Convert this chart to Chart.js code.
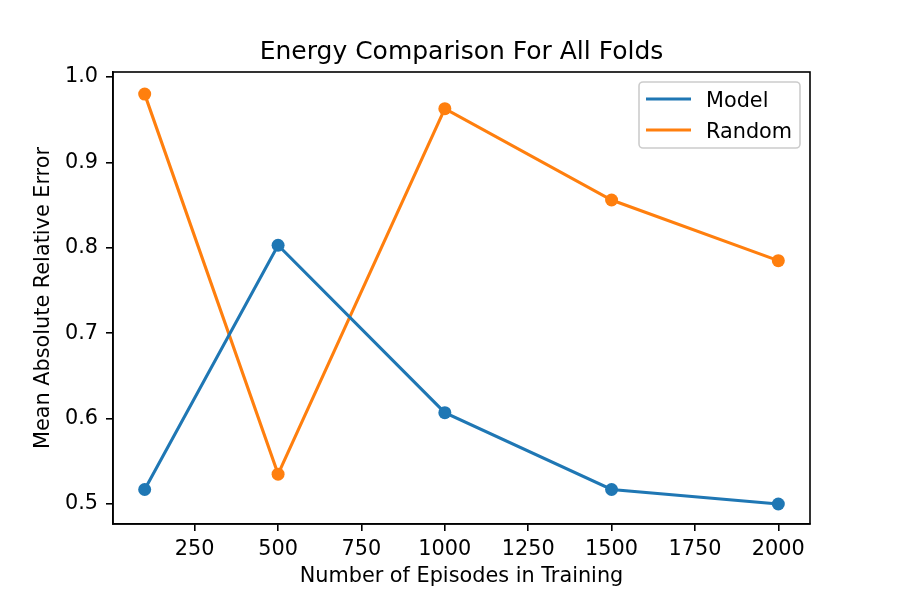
<!DOCTYPE html>
<html>
<head>
<meta charset="utf-8">
<script src="https://cdn.jsdelivr.net/npm/chart.js@4/dist/chart.umd.min.js"></script>
<style>
  html, body { margin: 0; padding: 0; background: #fff; }
  #wrap { width: 900px; height: 600px; }
</style>
</head>
<body>
<div id="wrap"><canvas id="c" width="900" height="600"></canvas></div>
<script>
const episodes = [100, 500, 1000, 1500, 2000];
const modelErr = [0.517, 0.803, 0.607, 0.517, 0.500];
const randomErr = [0.980, 0.535, 0.963, 0.856, 0.785];
const xTicks = [250, 500, 750, 1000, 1250, 1500, 1750, 2000];
const yTicks = [0.5, 0.6, 0.7, 0.8, 0.9, 1.0];
const seriesNames = ['Model', 'Random'];
const titleText = 'Energy Comparison For All Folds';
const xLabel = 'Number of Episodes in Training';
const yLabel = 'Mean Absolute Relative Error';

const FONT = 'DejaVu Sans';
const BLUE = '#1f77b4', ORANGE = '#ff7f0e';

const framePlugin = {
  id: 'frame',
  afterDraw(chart) {
    const ctx = chart.ctx, a = chart.chartArea;
    ctx.save();
    ctx.strokeStyle = '#000';
    ctx.lineWidth = 1.6;
    ctx.strokeRect(a.left, a.top, a.right - a.left, a.bottom - a.top);
    ctx.fillStyle = '#000';
    ctx.font = '25px "' + FONT + '"';
    ctx.textAlign = 'center';
    ctx.textBaseline = 'alphabetic';
    ctx.fillText(titleText, (a.left + a.right) / 2, 59);
    const bx = 639, by = 82, bw = 161, bh = 66, r = 4;
    ctx.beginPath();
    ctx.moveTo(bx + r, by);
    ctx.lineTo(bx + bw - r, by);
    ctx.arcTo(bx + bw, by, bx + bw, by + r, r);
    ctx.lineTo(bx + bw, by + bh - r);
    ctx.arcTo(bx + bw, by + bh, bx + bw - r, by + bh, r);
    ctx.lineTo(bx + r, by + bh);
    ctx.arcTo(bx, by + bh, bx, by + bh - r, r);
    ctx.lineTo(bx, by + r);
    ctx.arcTo(bx, by, bx + r, by, r);
    ctx.closePath();
    ctx.fillStyle = 'rgba(255,255,255,0.8)';
    ctx.fill();
    ctx.strokeStyle = '#cccccc';
    ctx.lineWidth = 1.6;
    ctx.stroke();
    const rows = [99, 130];
    chart.data.datasets.forEach((ds, i) => {
      const y = rows[i];
      ctx.strokeStyle = ds.borderColor;
      ctx.lineWidth = 3.1;
      ctx.beginPath();
      ctx.moveTo(646, y);
      ctx.lineTo(691, y);
      ctx.stroke();
      ctx.fillStyle = '#000';
      ctx.font = '20.8px "' + FONT + '"';
      ctx.textAlign = 'left';
      ctx.textBaseline = 'alphabetic';
      ctx.fillText(ds.label, 706, y + 8);
    });
    ctx.restore();
  }
};

new Chart(document.getElementById('c'), {
  type: 'line',
  data: {
    datasets: [
      {
        label: seriesNames[0],
        data: episodes.map((x, i) => ({ x: x, y: modelErr[i] })),
        borderColor: BLUE, backgroundColor: BLUE,
        borderWidth: 3.1, pointRadius: 6.5, pointBorderWidth: 0,
        pointBackgroundColor: BLUE, tension: 0
      },
      {
        label: seriesNames[1],
        data: episodes.map((x, i) => ({ x: x, y: randomErr[i] })),
        borderColor: ORANGE, backgroundColor: ORANGE,
        borderWidth: 3.1, pointRadius: 6.5, pointBorderWidth: 0,
        pointBackgroundColor: ORANGE, tension: 0
      }
    ]
  },
  options: {
    responsive: false,
    animation: false,
    devicePixelRatio: 1,
    layout: { padding: { top: 72, right: 90, left: 0, bottom: 0 } },
    plugins: { legend: { display: false }, title: { display: false }, tooltip: { enabled: false } },
    scales: {
      x: {
        type: 'linear', min: 5, max: 2095,
        afterBuildTicks: s => { s.ticks = xTicks.map(v => ({ value: v })); },
        afterFit: s => { s.height = 76; },
        grid: { display: true, drawOnChartArea: false, drawTicks: true, tickLength: 7, color: '#000', lineWidth: 1.6 },
        border: { display: true, color: '#000', width: 1.6 },
        ticks: { color: '#000', padding: 6, maxRotation: 0, autoSkip: false, font: { family: FONT, size: 20.8 },
                 callback: v => String(v) },
        title: { display: true, text: xLabel, color: '#000', font: { family: FONT, size: 20.8 }, padding: { top: 0, bottom: 10.5 } }
      },
      y: {
        type: 'linear', min: 0.4766, max: 1.0059,
        afterBuildTicks: s => { s.ticks = yTicks.map(v => ({ value: v })); },
        afterFit: s => { s.width = 113; },
        grid: { display: true, drawOnChartArea: false, drawTicks: true, tickLength: 7, color: '#000', lineWidth: 1.6 },
        border: { display: true, color: '#000', width: 1.6 },
        ticks: { color: '#000', padding: 8, autoSkip: false, font: { family: FONT, size: 20.8 },
                 callback: v => Number(v).toFixed(1) },
        title: { display: true, text: yLabel, color: '#000', font: { family: FONT, size: 20.8 }, padding: { top: 31.3, bottom: 0 } }
      }
    }
  },
  plugins: [framePlugin]
});
</script>
</body>
</html>
